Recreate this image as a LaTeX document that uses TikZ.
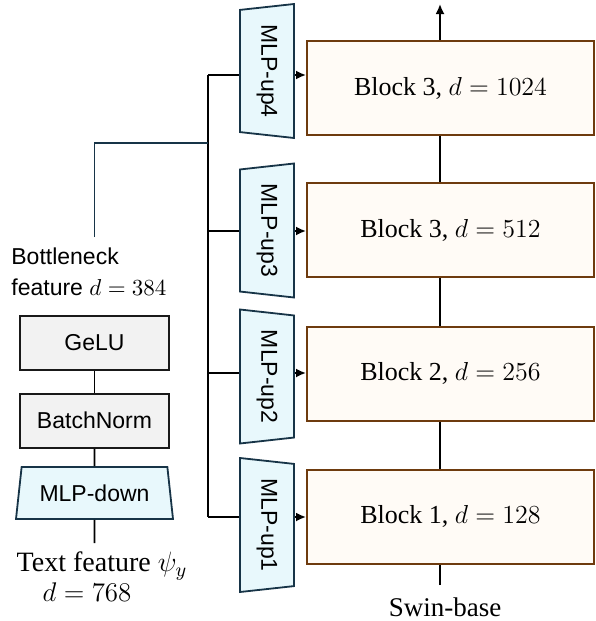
\RequirePackage{fix-cm}
\documentclass[tikz,border=0pt]{standalone}
\usepackage{fontspec}
\setmainfont{Liberation Serif}
\newfontfamily\labelsans{Liberation Sans}
\usetikzlibrary{arrows.meta,shapes.geometric}
\definecolor{blockbrown}{HTML}{6E3B0E}
\definecolor{blockfill}{HTML}{FFFBF6}
\definecolor{mlpnavy}{HTML}{173447}
\definecolor{mlpfill}{HTML}{E8F8FC}
\definecolor{boxgray}{HTML}{F2F2F2}

\begin{document}
\begin{tikzpicture}[x=0.5pt,y=-0.5pt,
  serif/.style={font=\fontsize{13.5}{16}\selectfont},
  sans/.style={font=\labelsans\fontsize{11.5}{15.5}\selectfont},
  blk/.style={font=\fontsize{13}{16}\selectfont,draw=blockbrown,fill=blockfill,line width=1pt,minimum width=143.5pt,minimum height=47pt},
  up/.style={sans,trapezium,draw=mlpnavy,fill=mlpfill,line width=0.9pt,rotate=-90,trapezium stretches body,minimum width=67pt,minimum height=27pt,inner sep=1pt},
  upw/.style={up,trapezium left angle=76.5,trapezium right angle=76.5},
  upe/.style={up,trapezium left angle=103.5,trapezium right angle=103.5},
  box/.style={sans,draw=black!90,fill=boxgray,line width=1pt,minimum width=74.5pt,minimum height=27pt},
  down/.style={sans,trapezium,draw=mlpnavy,fill=mlpfill,line width=0.9pt,trapezium angle=74.9,trapezium stretches body,minimum width=78.5pt,minimum height=26pt,inner sep=1pt},
  ln/.style={line width=0.9pt},
  arr/.style={ln,-{Latex[length=5pt,width=4.5pt]}}
]
\useasboundingbox (0,0) rectangle (595,621);

% Swin-base stages
\node[blk] (b4) at (450.5,88)    {Block 3, $d=1024$};
\node[blk] (b3) at (450.5,230)   {Block 3, $d=512$};
\node[blk] (b2) at (450.5,373.5) {Block 2, $d=256$};
\node[blk] (b1) at (450.5,516.5) {Block 1, $d=128$};
\node[serif] (swin) at (445,607) {Swin-base};
\coordinate (sp) at (440,0);
\coordinate (swtop) at (440,585);
\coordinate (outp) at (440,4);
\draw[ln] (swtop) -- (b1.south -| sp);
\draw[ln] (b1.north -| sp) -- (b2.south -| sp);
\draw[ln] (b2.north -| sp) -- (b3.south -| sp);
\draw[ln] (b3.north -| sp) -- (b4.south -| sp);
\draw[arr] (b4.north -| sp) -- (outp);

% MLP-up branches
\node[upe] (u4) at (267,71)    {MLP-up4};
\node[upe] (u3) at (267,230.5) {MLP-up3};
\node[upw] (u2) at (267,376.5) {MLP-up2};
\node[upw] (u1) at (267,525)   {MLP-up1};
\coordinate (bus) at (208,0);
\coordinate (r4) at (0,75);
\coordinate (r3) at (0,231);
\coordinate (r2) at (0,373);
\coordinate (r1) at (0,517);
\draw[ln] (bus |- r4) -- (bus |- r1);
\foreach \i in {1,...,4}{
  \draw[ln] (bus |- r\i) -- (u\i.south |- r\i);
  \draw[arr] (u\i.north |- r\i) -- (b\i.west |- r\i);
}

% text encoder side
\node[box] (gelu)  at (94.5,343)   {GeLU};
\node[box] (bnorm) at (94.5,420.5) {BatchNorm};
\node[down] (mdown) at (94.5,493)  {MLP-down};
\node[font=\fontsize{14}{16}\selectfont] (tf)  at (102,566) {Text feature $\psi_y$};
\node[serif] (dim) at (87,592)  {$d=768$};
\coordinate (tin) at (94.5,543);
\draw[ln] (tin) -- (mdown.south);
\draw[ln] (mdown) -- (bnorm);
\draw[ln] (bnorm) -- (gelu);

\node[sans,anchor=north west,align=left,inner sep=0pt] (bneck) at (11,247) {Bottleneck\\feature $d=384$};
\coordinate (bnk) at (94.5,237);
\coordinate (bj) at (208,143);
\draw[ln,draw=mlpnavy] (bnk) |- (bj);
\end{tikzpicture}
\end{document}
